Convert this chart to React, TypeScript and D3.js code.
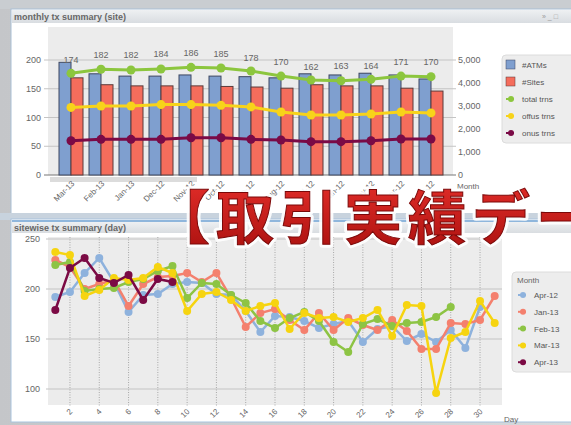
import React from 'react';
import * as d3 from 'd3';

// ---- monthly panel data ----
const months = ['Mar-13', 'Feb-13', 'Jan-13', 'Dec-12', 'Nov-12', 'Oct-12', 'Sep-12', 'Aug-12', 'Jul-12', 'Jun-12', 'May-12', 'Apr-12', 'Mar-12'];
const atms = [196, 176, 172, 172, 174, 172, 171, 169, 176, 174, 177, 174, 167];
const sites = [169, 157, 155, 155, 155, 154, 153, 151, 157, 155, 155, 151, 146];
const barLabels = [174, 182, 182, 184, 186, 185, 178, 170, 162, 163, 164, 171, 170];
const totalTrns = [4420, 4600, 4565, 4610, 4680, 4650, 4520, 4300, 4130, 4100, 4160, 4300, 4275];
const offusTrns = [2940, 3000, 3000, 3060, 3060, 3030, 2960, 2740, 2610, 2610, 2650, 2740, 2700];
const onusTrns = [1490, 1550, 1550, 1550, 1620, 1620, 1550, 1520, 1450, 1450, 1490, 1565, 1565];
const leftTicks = [0, 50, 100, 150, 200];
const rightTicks = [0, 1000, 2000, 3000, 4000, 5000];

// ---- daily panel data ----
const apr12 = [192, 197, 216, 231, 207, 177, 194, 195, 205, 207, 206, 195, 194, 178, 157, 173, 172, 168, 161, 165, 168, 147, 160, 163, 148, 155, 147, 159, 141, 182];
const jan13 = [229, 222, 200, 205, 209, 183, 205, 212, 213, 216, 207, 216, 191, 162, 176, 180, 169, 159, 176, 159, 171, 164, 159, 169, 158, 140, 140, 166, 165, 169, 193];
const feb13 = [224, 227, 198, 200, 201, 207, 210, 218, 223, 191, 206, 205, 194, 186, 168, 161, 171, 177, 168, 147, 137, 165, 170, 163, 166, 167, 172, 182];
const mar13 = [237, 234, 193, 199, 211, 209, 211, 222, 216, 178, 195, 197, 189, 178, 183, 186, 160, 176, 171, 172, 167, 171, 179, 153, 184, 183, 96, 151, 157, 188, 166];
const apr13 = [179, 221, 231, 211, 206, 214, 189, 210, 207];
const dayTicks = [2, 4, 6, 8, 10, 12, 14, 16, 18, 20, 22, 24, 26, 28, 30];
const dayYTicks = [100, 150, 200, 250];

const font = '"Liberation Sans", Arial, sans-serif';
const axisCol = '#666';

export default function App() {
  // monthly scales
  const x = d3.scaleBand<string>().domain(months).range([56, 446]).paddingInner(0.2).paddingOuter(0.1);
  const xs = d3.scaleBand<string>().domain(['a', 's']).range([0, x.bandwidth()]);
  const yL = d3.scaleLinear().domain([0, 200]).range([175, 60]);
  const yR = d3.scaleLinear().domain([0, 5000]).range([175, 60]);
  const cx = (m: string) => (x(m) as number) + x.bandwidth() / 2;
  const lineR = d3.line<number>().x((_, i) => cx(months[i])).y((d) => yR(d));

  const monthSeries = [
    { name: 'total trns', data: totalTrns, color: '#8cc63e' },
    { name: 'offus trns', data: offusTrns, color: '#f7d31a' },
    { name: 'onus trns', data: onusTrns, color: '#7a0a46' },
  ];

  // daily scales
  const xd = d3.scaleLinear().domain([0.5, 31.5]).range([48, 502]);
  const yd = d3.scaleLinear().domain([100, 250]).range([389, 239]);
  const lineD = d3.line<number>().x((_, i) => xd(i + 1)).y((d) => yd(d));
  const daySeries = [
    { name: 'Apr-12', data: apr12, color: '#8eb2dd' },
    { name: 'Jan-13', data: jan13, color: '#f4806e' },
    { name: 'Feb-13', data: feb13, color: '#8dc444' },
    { name: 'Mar-13', data: mar13, color: '#f6d410' },
    { name: 'Apr-13', data: apr13, color: '#7b0a44' },
  ];

  return (
    <svg width={571} height={425} style={{ position: 'fixed', left: 0, top: 0, display: 'block' }} fontFamily={font}>
      <defs>
        <linearGradient id="bg" x1="0" y1="0" x2="1" y2="0">
          <stop offset="0" stopColor="#c4c6c9" />
          <stop offset="1" stopColor="#d6d9dc" />
        </linearGradient>
        <linearGradient id="tbar" x1="0" y1="0" x2="0" y2="1">
          <stop offset="0" stopColor="#eef0f2" />
          <stop offset="1" stopColor="#d9dde1" />
        </linearGradient>
        <linearGradient id="red" x1="0" y1="0" x2="0" y2="1">
          <stop offset="0" stopColor="#e8302c" />
          <stop offset="1" stopColor="#a8100e" />
        </linearGradient>
      </defs>

      {/* window chrome */}
      <rect x={0} y={0} width={571} height={425} fill="url(#bg)" />
      <rect x={0} y={0} width={571} height={9} fill="#c9cdd1" />
      <rect x={11} y={9} width={562} height={206} fill="#fff" stroke="#a9bfd6" />
      <rect x={12} y={10} width={560} height={13} fill="url(#tbar)" />
      <text x={14} y={20} fontSize={9} fontWeight={700} fill="#666">monthly tx summary (site)</text>
      <text x={542} y={19} fontSize={7} fill="#999">» _ □</text>
      <rect x={0} y={213} width={571} height={7} fill="#c8d3de" />
      <rect x={11} y={219} width={562} height={203} fill="#fff" stroke="#a9c4de" />
      <rect x={12} y={220} width={560} height={2} fill="#8fb6dc" />
      <rect x={12} y={222} width={560} height={11} fill="url(#tbar)" />
      <text x={14} y={231} fontSize={9} fontWeight={700} fill="#666">sitewise tx summary (day)</text>

      {/* ---- monthly chart ---- */}
      <rect x={48} y={27} width={405} height={148} fill="#ececec" />
      {leftTicks.map((t) => (
        <g key={t}>
          <line x1={44} x2={456} y1={yL(t)} y2={yL(t)} stroke={t === 0 ? '#777' : '#c4c4c4'} />
          <text x={41} y={yL(t) + 3} fontSize={9} fill={axisCol} textAnchor="end">{t}</text>
        </g>
      ))}
      {rightTicks.map((t) => (
        <text key={t} x={458} y={yR(t) + 3} fontSize={9} fill={axisCol}>{d3.format(',')(t)}</text>
      ))}
      <text x={457} y={189} fontSize={8} fill={axisCol}>Month</text>
      <rect x={50} y={177} width={147} height={5} fill="#dcdcdc" />

      {months.map((m, i) => (
        <g key={m}>
          <rect x={(x(m) as number) + (xs('a') as number)} y={yL(atms[i])} width={xs.bandwidth()} height={175 - yL(atms[i])} fill="#7f9fcf" stroke="#3c4660" strokeWidth={1} />
          <rect x={(x(m) as number) + (xs('s') as number)} y={yL(sites[i])} width={xs.bandwidth()} height={175 - yL(sites[i])} fill="#f56d5c" stroke="#5a3a3a" strokeWidth={1} />
          <text x={cx(m)} y={yL(barLabels[i]) - 12} fontSize={9} fill="#666" textAnchor="middle">{barLabels[i]}</text>
          <text transform={`translate(${cx(m) + 4},${184}) rotate(-45)`} fontSize={8} fill={axisCol} textAnchor="end">{m}</text>
        </g>
      ))}
      {monthSeries.map((s) => (
        <g key={s.name}>
          <path d={lineR(s.data) as string} fill="none" stroke={s.color} strokeWidth={3} />
          {s.data.map((v, i) => (
            <circle key={i} cx={cx(months[i])} cy={yR(v)} r={4.5} fill={s.color} />
          ))}
        </g>
      ))}

      {/* monthly legend */}
      <rect x={502} y={55} width={80} height={88} rx={4} fill="#ededed" stroke="#dcdcdc" />
      <rect x={506} y={60} width={9} height={9} fill="#7f9fcf" stroke="#3c4660" strokeWidth={0.5} />
      <text x={522} y={68} fontSize={8} fill="#555">#ATMs</text>
      <rect x={506} y={77} width={9} height={9} fill="#f56d5c" stroke="#5a3a3a" strokeWidth={0.5} />
      <text x={522} y={85} fontSize={8} fill="#555">#Sites</text>
      {monthSeries.map((s, i) => (
        <g key={s.name} transform={`translate(510,${99 + i * 17})`}>
          <line x1={-4} x2={4} y1={0} y2={0} stroke={s.color} strokeWidth={2} />
          <circle cx={1} cy={0} r={3} fill={s.color} />
          <text x={12} y={3} fontSize={8} fill="#555">{s.name}</text>
        </g>
      ))}

      {/* ---- daily chart ---- */}
      <rect x={48} y={237} width={454} height={168} fill="#ececec" />
      {dayYTicks.map((t) => (
        <g key={t}>
          <line x1={46} x2={502} y1={yd(t)} y2={yd(t)} stroke="#c4c4c4" strokeWidth={1.2} />
          <text x={40} y={yd(t) + 3} fontSize={9} fill={axisCol} textAnchor="end">{t}</text>
        </g>
      ))}
      {dayTicks.map((d) => (
        <g key={d}>
          <line x1={xd(d)} x2={xd(d)} y1={237} y2={407} stroke="#a8a8a8" strokeDasharray="1,1.5" />
          <text transform={`translate(${xd(d) + 3},${412}) rotate(-45)`} fontSize={8} fill={axisCol} textAnchor="end">{d}</text>
        </g>
      ))}
      <text x={504} y={422} fontSize={8} fill={axisCol}>Day</text>
      {daySeries.map((s) => (
        <g key={s.name}>
          <path d={lineD(s.data) as string} fill="none" stroke={s.color} strokeWidth={2.5} />
          {s.data.map((v, i) => (
            <circle key={i} cx={xd(i + 1)} cy={yd(v)} r={4} fill={s.color} />
          ))}
        </g>
      ))}

      {/* daily legend */}
      <rect x={512} y={272} width={70} height={100} rx={4} fill="#ededed" stroke="#dcdcdc" />
      <text x={517} y={283} fontSize={8} fill="#666">Month</text>
      {daySeries.map((s, i) => (
        <g key={s.name} transform={`translate(522,${295 + i * 16.8})`}>
          <line x1={-4} x2={4} y1={0} y2={0} stroke={s.color} strokeWidth={2} />
          <circle cx={1} cy={0} r={3} fill={s.color} />
          <text x={12} y={3} fontSize={8} fill="#555">{s.name}</text>
        </g>
      ))}

      {/* overlay caption */}
      <text x={152} y={239} fontSize={58} fontWeight={700} letterSpacing={6} fontFamily='"Noto Sans CJK JP", sans-serif'
        fill="none" stroke="#fff" strokeWidth={7} strokeLinejoin="round" opacity={0.9}>【取引実績データ】</text>
      <text x={152} y={239} fontSize={58} fontWeight={700} letterSpacing={6} fontFamily='"Noto Sans CJK JP", sans-serif'
        fill="url(#red)" stroke="#7a0808" strokeWidth={1}>【取引実績データ】</text>
    </svg>
  );
}
